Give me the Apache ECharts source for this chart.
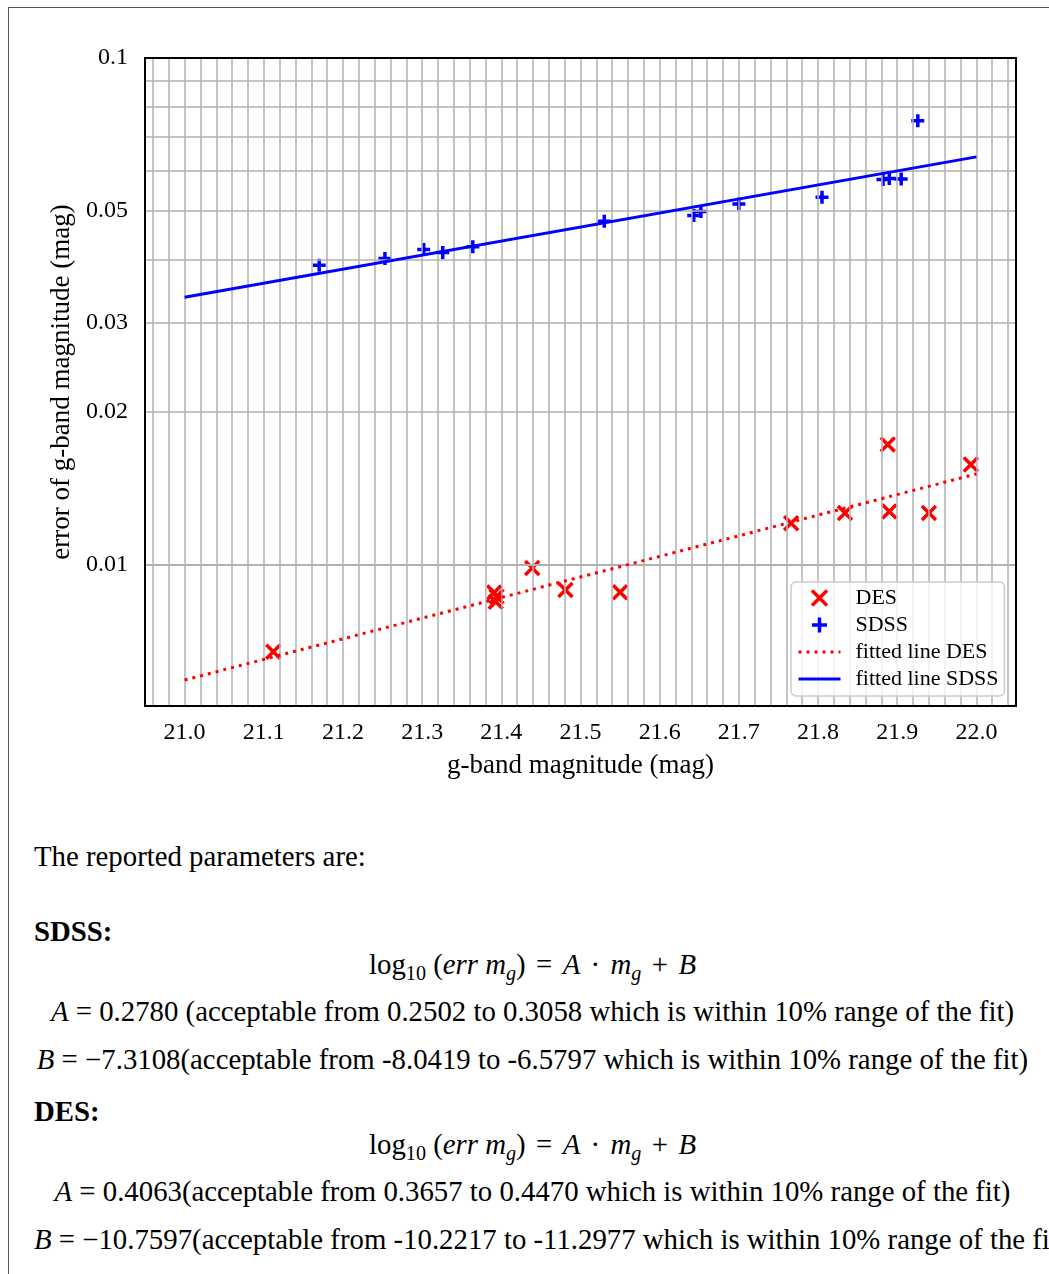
<!DOCTYPE html>
<html>
<head>
<meta charset="utf-8">
<script src="https://cdn.jsdelivr.net/npm/echarts@6/dist/echarts.min.js"></script>
<style>
  html, body { margin: 0; padding: 0; background: #fff; }
  body { width: 1049px; height: 1274px; overflow: hidden; position: relative; font-family: 'Liberation Serif', serif; color: #000; }
  #frame { position: absolute; left: 8px; top: 7px; width: 1200px; height: 1400px; border-left: 1.5px solid #555; border-top: 1.5px solid #555; }
  #chart { position: absolute; left: 0; top: 0; width: 1049px; height: 800px; }
  .t { position: absolute; left: 34px; white-space: nowrap; font-size: 28.8px; line-height: 28px; }
  .c { width: 997px; text-align: center; }
  .b { font-weight: bold; }
  .op { margin: 0 0.36em; }
  sub { font-size: 70%; line-height: 0; vertical-align: -0.3em; }
</style>
</head>
<body>
<div id="frame"></div>
<div id="chart"></div>

<div class="t" style="top:842px">The reported parameters are:</div>
<div class="t b" style="top:917px">SDSS:</div>
<div class="t c" style="top:950px">log<sub>10</sub> (<i>err m<sub>g</sub></i>)<span class="op">=</span><i>A</i><span class="op">·</span><i>m<sub>g</sub></i><span class="op">+</span><i>B</i></div>
<div class="t c" style="top:997px"><i>A</i> = 0.2780 (acceptable from 0.2502 to 0.3058 which is within 10% range of the fit)</div>
<div class="t c" style="top:1045px"><i>B</i> = −7.3108(acceptable from -8.0419 to -6.5797 which is within 10% range of the fit)</div>
<div class="t b" style="top:1097px">DES:</div>
<div class="t c" style="top:1130px">log<sub>10</sub> (<i>err m<sub>g</sub></i>)<span class="op">=</span><i>A</i><span class="op">·</span><i>m<sub>g</sub></i><span class="op">+</span><i>B</i></div>
<div class="t c" style="top:1177px"><i>A</i> = 0.4063(acceptable from 0.3657 to 0.4470 which is within 10% range of the fit)</div>
<div class="t c" style="top:1225px"><i>B</i> = −10.7597(acceptable from -10.2217 to -11.2977 which is within 10% range of the fit)</div>

<script>
// DES measurements
const desMag = [21.112, 21.391, 21.394, 21.393, 21.439, 21.481, 21.550, 21.766, 21.834, 21.888, 21.890, 21.940, 21.993];
const desErr = [0.00673, 0.00881, 0.00865, 0.00845, 0.00985, 0.00891, 0.00882, 0.01207, 0.01265, 0.01726, 0.01273, 0.01265, 0.01576];

// SDSS measurements
const sdssMag = [21.170, 21.253, 21.302, 21.326, 21.364, 21.530, 21.643, 21.652, 21.700, 21.805, 21.882, 21.890, 21.905, 21.926];
const sdssErr = [0.0390, 0.0402, 0.0419, 0.0413, 0.0424, 0.0476, 0.0489, 0.0498, 0.0515, 0.0531, 0.0576, 0.0578, 0.0577, 0.0752];

// fitted lines (end points)
const fitMag = [21.0, 22.0];
const fitDes = [0.00592, 0.0151];
const fitSdss = [0.0337, 0.0638];

// axis ticks and grid
const xTicks = [21.0, 21.1, 21.2, 21.3, 21.4, 21.5, 21.6, 21.7, 21.8, 21.9, 22.0];
const yTicks = [0.01, 0.02, 0.03, 0.05, 0.1];
const xGrid = [20.96, 20.98, 21.00, 21.02, 21.04, 21.06, 21.08, 21.10, 21.12, 21.14, 21.16, 21.18,
  21.20, 21.22, 21.24, 21.26, 21.28, 21.30, 21.32, 21.34, 21.36, 21.38, 21.40, 21.42, 21.44, 21.46,
  21.48, 21.50, 21.52, 21.54, 21.56, 21.58, 21.60, 21.62, 21.64, 21.66, 21.68, 21.70, 21.72, 21.74,
  21.76, 21.78, 21.80, 21.82, 21.84, 21.86, 21.88, 21.90, 21.92, 21.94, 21.96, 21.98, 22.00, 22.02, 22.04];
const yGrid = [0.006, 0.007, 0.008, 0.009, 0.01, 0.02, 0.03, 0.04, 0.05, 0.06, 0.07, 0.08, 0.09];

const FONT = 'Liberation Serif';
const pairs = (xs, ys) => xs.map((x, i) => [x, ys[i]]);
const noMarker = { color: 'rgba(0,0,0,0)', borderColor: 'rgba(0,0,0,0)', borderWidth: 0, opacity: 0 };

const chart = echarts.init(document.getElementById('chart'));
chart.setOption({
  animation: false,
  grid: {
    left: 145, top: 58, width: 871, height: 648,
    show: true, borderColor: '#000', borderWidth: 2, backgroundColor: 'transparent',
    z: 6, outerBoundsMode: 'none'
  },
  xAxis: {
    type: 'value', min: 20.95, max: 22.05,
    name: 'g-band magnitude (mag)', nameLocation: 'middle', nameGap: 46,
    nameTextStyle: { fontFamily: FONT, fontSize: 27, color: '#000' },
    axisLine: { show: false }, axisTick: { show: false }, splitLine: { show: false },
    axisLabel: {
      customValues: xTicks, margin: 15, fontFamily: FONT, fontSize: 24, color: '#000',
      formatter: v => Number(v).toFixed(1)
    }
  },
  yAxis: {
    type: 'log', logBase: 10, min: 0.00526, max: 0.1,
    name: 'error of g-band magnitude (mag)', nameLocation: 'middle', nameGap: 69,
    nameTextStyle: { fontFamily: FONT, fontSize: 27, color: '#000' },
    axisLine: { show: false }, axisTick: { show: false }, splitLine: { show: false },
    axisLabel: {
      customValues: yTicks, margin: 17, fontFamily: FONT, fontSize: 24, color: '#000',
      formatter: v => String(+Number(v).toPrecision(3))
    }
  },
  legend: {
    orient: 'vertical', left: 791, top: 582,
    data: [
      { name: 'DES', itemStyle: { borderWidth: 3.5 } },
      { name: 'SDSS', itemStyle: { borderWidth: 3.5 } },
      { name: 'fitted line DES', itemStyle: noMarker, lineStyle: { width: 3 } },
      { name: 'fitted line SDSS', itemStyle: noMarker, lineStyle: { width: 3 } }
    ],
    itemWidth: 42, itemHeight: 15, itemGap: 5,
    padding: [5, 6, 6, 6],
    backgroundColor: 'rgba(255,255,255,0.8)', borderColor: '#cccccc', borderWidth: 1.5, borderRadius: 5,
    textStyle: { fontFamily: FONT, fontSize: 22, color: '#000', padding: [0, 0, 0, 10] },
    z: 7
  },
  series: [
    {
      name: 'DES', type: 'scatter', z: 1,
      symbol: 'path://M0,0L10,10M10,0L0,10', symbolSize: 14,
      itemStyle: { color: '#ff0000', borderColor: '#ff0000', borderWidth: 3.5, opacity: 1 },
      data: pairs(desMag, desErr),
      markLine: {
        silent: true, z: 2, symbol: ['none', 'none'], label: { show: false },
        lineStyle: { color: '#b0b0b0', width: 1.5, type: 'solid' },
        emphasis: { disabled: true },
        data: xGrid.map(v => ({ xAxis: v })).concat(yGrid.map(v => ({ yAxis: v })))
      }
    },
    {
      name: 'SDSS', type: 'scatter', z: 1,
      symbol: 'path://M5,0L5,10M0,5L10,5', symbolSize: 13,
      itemStyle: { color: '#0000ff', borderColor: '#0000ff', borderWidth: 3.5, opacity: 1 },
      data: pairs(sdssMag, sdssErr)
    },
    {
      name: 'fitted line DES', type: 'line', z: 3, symbol: 'none',
      color: '#ff0000',
      lineStyle: { color: '#ff0000', width: 3, type: [3, 5] },
      data: pairs(fitMag, fitDes)
    },
    {
      name: 'fitted line SDSS', type: 'line', z: 3, symbol: 'none',
      color: '#0000ff',
      lineStyle: { color: '#0000ff', width: 3 },
      data: pairs(fitMag, fitSdss)
    }
  ]
});
</script>
</body>
</html>
